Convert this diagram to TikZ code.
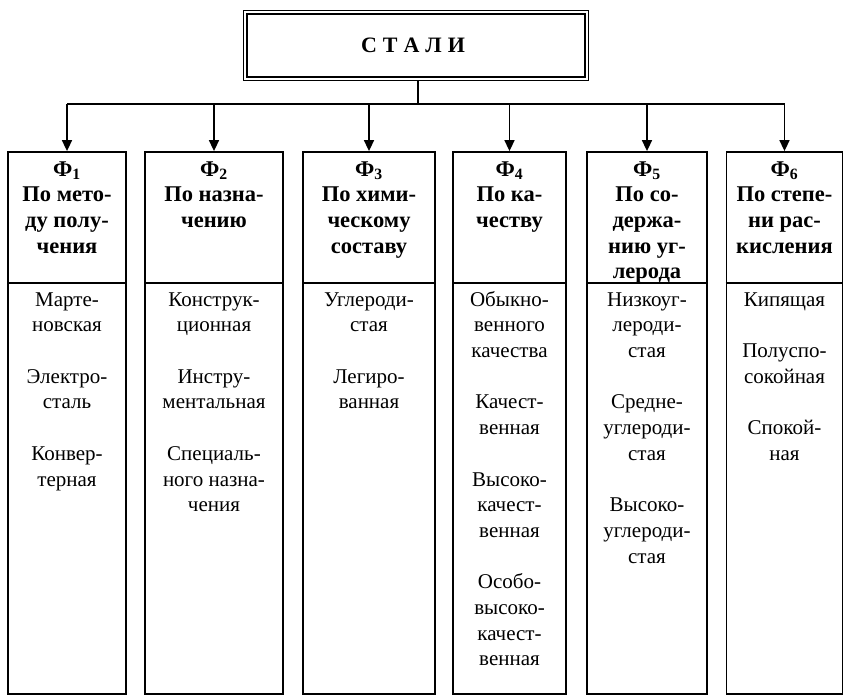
\documentclass[tikz,border=0pt]{standalone}
\usepackage{fontspec}
\setmainfont{Liberation Serif}
\usetikzlibrary{arrows.meta}

\begin{document}
\begin{tikzpicture}[x=1pt,y=-1pt,
  txt/.style={font=\fontsize{21}{25.7}\selectfont, align=center, inner sep=0pt, anchor=north},
  headtxt/.style={txt, font=\fontsize{22.5}{25.7}\selectfont\bfseries},
  colbox/.style={draw, line width=1.8pt, minimum height=542pt, inner sep=0pt},
  divider/.style={line width=1.4pt},
  link/.style={line width=1.6pt},
  arr/.style={link, -{Triangle[length=11pt,width=10pt]}}
]
\useasboundingbox (0,0) rectangle (844,696);

% root box with a double frame
\node[draw, line width=1pt, minimum width=345pt, minimum height=70pt, inner sep=0pt] (root) at (415.5,45) {};
\draw[line width=2pt] ([shift={(4pt,-4pt)}]root.north west) rectangle ([shift={(-4pt,4pt)}]root.south east);
\node[font=\fontsize{22}{26}\selectfont\bfseries, inner sep=0pt] (title) at (413,45)
  {С\kern6pt Т\kern6pt А\kern6pt Л\kern6pt И};

% six classification columns
\node[colbox, minimum width=118pt] (c1) at (67,423) {};
\node[colbox, minimum width=138pt] (c2) at (214,423) {};
\node[colbox, minimum width=132pt] (c3) at (369,423) {};
\node[colbox, minimum width=113pt] (c4) at (509.5,423) {};
\node[colbox, minimum width=120pt] (c5) at (647,423) {};
\node[colbox, minimum width=116pt] (c6) at (784.5,423) {};

% header / body separators
\foreach \c in {c1,c2,c3,c4,c5,c6}
  \draw[divider] (\c.west |- 0,283) -- (\c.east |- 0,283);

% connectors
\coordinate (bus) at (418,104);
\draw[link] (bus |- root.south) -- (bus);
\draw[link] (c1.north |- bus) -- (c6.north |- bus);
\foreach \c in {c1,c2,c3,c4,c5,c6}
  \draw[arr] (\c.north |- bus) -- (\c.north);

% headers
\node[headtxt] (h1) at (67,158) {\strut Ф\textsubscript{1}\\По мето-\\ду полу-\\чения};
\node[headtxt] (h2) at (214,158) {\strut Ф\textsubscript{2}\\По назна-\\чению};
\node[headtxt] (h3) at (369,158) {\strut Ф\textsubscript{3}\\По хими-\\ческому\\составу};
\node[headtxt] (h4) at (509.5,158) {\strut Ф\textsubscript{4}\\По ка-\\честву};
\node[headtxt] (h5) at (647,158) {\strut Ф\textsubscript{5}\\По со-\\держа-\\нию уг-\\лерода};
\node[headtxt] (h6) at (784.5,158) {\strut Ф\textsubscript{6}\\По степе-\\ни рас-\\кисления};

% column contents
\node[txt] (b1) at (67,288) {\strut Марте-\\новская\\[25.7pt]Электро-\\сталь\\[25.7pt]Конвер-\\терная};
\node[txt] (b2) at (214,288) {\strut Конструк-\\ционная\\[25.7pt]Инстру-\\ментальная\\[25.7pt]Специаль-\\ного назна-\\чения};
\node[txt] (b3) at (369,288) {\strut Углероди-\\стая\\[25.7pt]Легиро-\\ванная};
\node[txt] (b4) at (509.5,288) {\strut Обыкно-\\венного\\качества\\[25.7pt]Качест-\\венная\\[25.7pt]Высоко-\\качест-\\венная\\[25.7pt]Особо-\\высоко-\\качест-\\венная};
\node[txt] (b5) at (647,288) {\strut Низкоуг-\\лероди-\\стая\\[25.7pt]Средне-\\углероди-\\стая\\[25.7pt]Высоко-\\углероди-\\стая};
\node[txt] (b6) at (784.5,288) {\strut Кипящая\\[25.7pt]Полуспо-\\сокойная\\[25.7pt]Спокой-\\ная};
\end{tikzpicture}
\end{document}
